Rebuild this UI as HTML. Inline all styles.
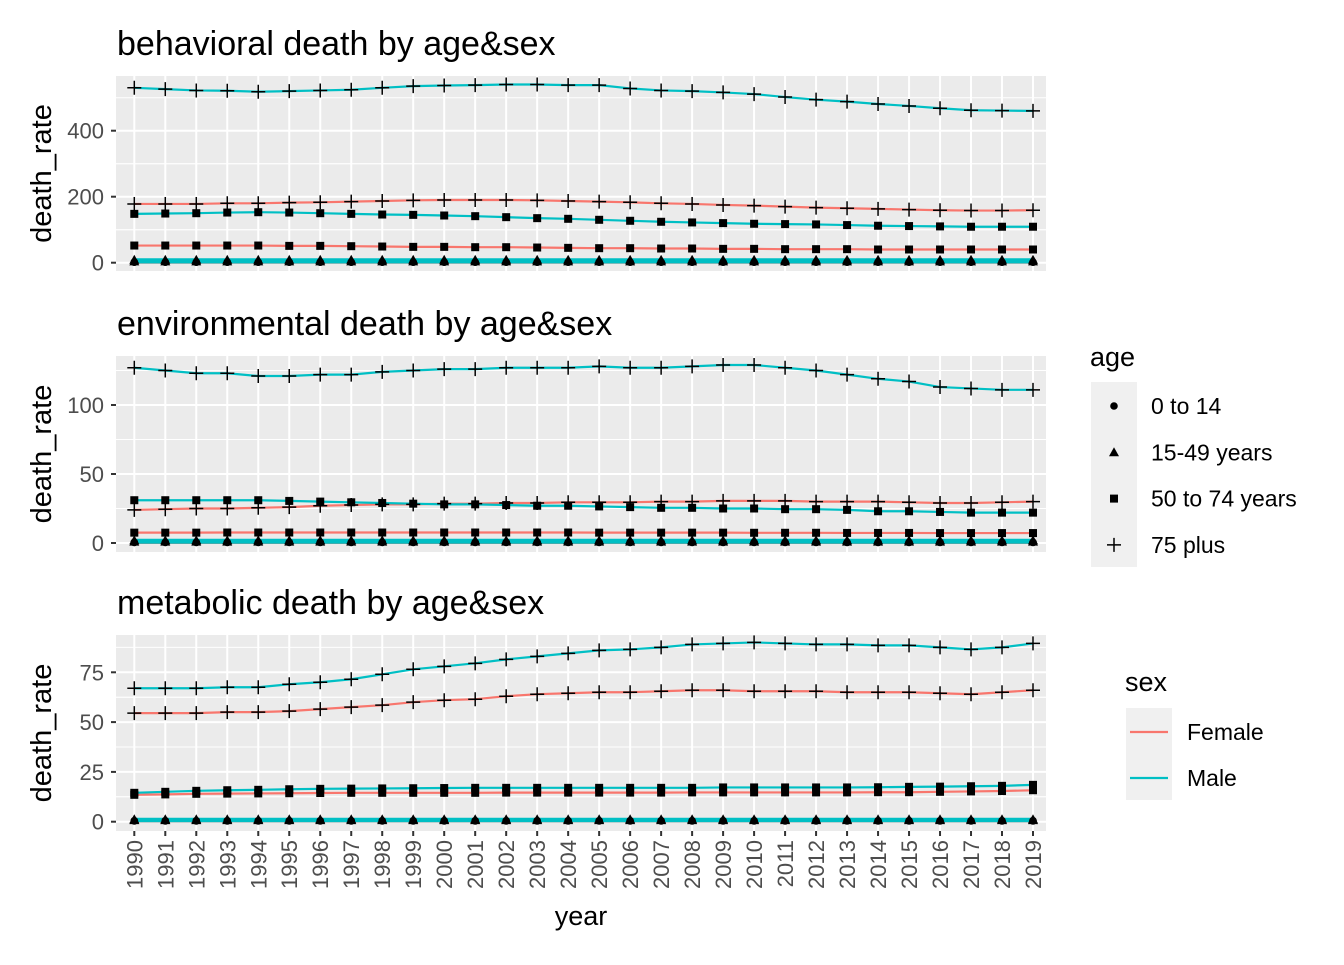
<!DOCTYPE html>
<html><head><meta charset="utf-8"><style>
body{margin:0;background:#fff}
svg text{font-family:"Liberation Sans",Arial,sans-serif}
</style></head><body>
<svg id="c" width="1344" height="960" xmlns="http://www.w3.org/2000/svg"></svg>
<script>
const years=[];for(let y=1990;y<=2019;y++)years.push(y);
const ages=['0 to 14','15-49 years','50 to 74 years','75 plus'];
// behavioral
const behM0=Array(30).fill(2), behF0=Array(30).fill(1.5);
const behM15=Array(30).fill(9), behF15=Array(30).fill(4);
const behM50=[148,149,150,152,153,152,150,148,146,145,143,141,138,135,133,130,127,124,122,120,118,117,116,114,112,111,110,109,109,109];
const behF50=[52,52,52,52,52,51,51,50,49,48,48,47,47,46,45,44,44,43,43,42,42,41,41,41,40,40,40,40,40,40];
const behM75=[530,526,522,521,518,520,522,524,530,535,537,538,540,540,538,538,528,522,520,516,511,502,494,488,481,475,468,462,461,460];
const behF75=[178,178,178,180,180,182,183,185,187,189,190,190,190,189,187,185,183,180,178,175,173,170,167,165,163,161,159,158,158,159];
// environmental
const envM0=Array(30).fill(0.5), envF0=Array(30).fill(0.4);
const envM15=Array(30).fill(2), envF15=Array(30).fill(1);
const envM50=[31,31,31,31,31,30.5,30,29.5,29,28.5,28,28,27.5,27,27,26.5,26,25.5,25.5,25,25,24.5,24.5,24,23,23,22.5,22,22,22];
const envF50=[7.5,7.5,7.5,7.6,7.6,7.6,7.6,7.6,7.6,7.6,7.6,7.6,7.6,7.6,7.6,7.5,7.5,7.5,7.5,7.5,7.4,7.4,7.4,7.3,7.3,7.3,7.2,7.2,7.2,7.2];
const envM75=[127,125,123,123,121,121,122,122,124,125,126,126,127,127,127,128,127,127,128,129,129,127,125,122,119,117,113,112,111,111];
const envF75=[24,24.5,25,25,25.5,26,27,27.5,28,28,28.5,28.5,29,29,29.5,29.5,29.5,30,30,30.5,30.5,30.5,30,30,30,29.5,29,29,29.5,30];
// metabolic
const metM0=Array(30).fill(0.5), metF0=Array(30).fill(0.4);
const metM15=Array(30).fill(1.2), metF15=Array(30).fill(0.8);
const metM50=[14.5,15,15.5,15.8,16,16.3,16.5,16.6,16.7,16.8,16.9,17,17,17,17,17,17,17,17,17.2,17.2,17.2,17.2,17.2,17.3,17.5,17.6,17.8,18,18.5];
const metF50=[13.5,13.7,14,14.1,14.2,14.3,14.4,14.5,14.5,14.5,14.5,14.5,14.6,14.6,14.6,14.6,14.6,14.6,14.7,14.7,14.7,14.7,14.7,14.7,14.8,14.8,15,15.2,15.4,15.8];
const metM75=[67,67,67,67.5,67.5,69,70,71.5,74,76.5,78,79.5,81.5,83,84.5,86,86.5,87.5,89,89.5,90,89.5,89,89,88.5,88.5,87.5,86.5,87.5,89.5];
const metF75=[54.5,54.5,54.5,55,55,55.5,56.5,57.5,58.5,60,61,61.5,63,64,64.5,65,65,65.5,66,66,65.5,65.5,65.5,65,65,65,64.5,64,65,66];
const behTicks=[0,200,400], envTicks=[0,50,100], metTicks=[0,25,50,75];

const NS='http://www.w3.org/2000/svg', svg=document.getElementById('c');
function mk(t,a,p){const e=document.createElementNS(NS,t);for(const k in a)e.setAttribute(k,a[k]);(p||svg).appendChild(e);return e;}
const X0=116,X1=1046;
const xs=i=>134.3+i*(1033-134.3)/29;
const panels=[
 {title:'behavioral death by age&sex',top:76,bot:271,z:262.7,k:0.33,ticks:behTicks,F:[behF0,behF15,behF50,behF75],M:[behM0,behM15,behM50,behM75],key:'behavioral'},
 {title:'environmental death by age&sex',top:356,bot:552,z:543,k:1.38,ticks:envTicks,F:[envF0,envF15,envF50,envF75],M:[envM0,envM15,envM50,envM75],key:'environmental'},
 {title:'metabolic death by age&sex',top:635,bot:831,z:821.7,k:1.992,ticks:metTicks,F:[metF0,metF15,metF50,metF75],M:[metM0,metM15,metM50,metM75],key:'metabolic'}];
function marker(g,a,x,y){
 if(a===0)mk('circle',{cx:x,cy:y,r:3.8,fill:'#000'},g);
 else if(a===1)mk('polygon',{points:`${x},${y-5} ${x-5},${y+4} ${x+5},${y+4}`,fill:'#000'},g);
 else if(a===2)mk('rect',{x:x-4,y:y-4,width:8,height:8,fill:'#000'},g);
 else{mk('path',{d:`M${x-7},${y}H${x+7}M${x},${y-7}V${y+7}`,stroke:'#000','stroke-width':1.5},g);}
}
panels.forEach((p,pi)=>{
 const g=mk('g',{});
 const ys=v=>p.z-v*p.k;
 mk('rect',{x:X0,y:p.top,width:X1-X0,height:p.bot-p.top,fill:'#ebebeb'},g);
 for(let i=0;i<p.ticks.length;i++){const t=p.ticks[i],s=p.ticks[1]-p.ticks[0];
  [t-s/2,t+s/2].forEach(m=>{const yy=ys(m);if(yy>p.top&&yy<p.bot)mk('line',{x1:X0,x2:X1,y1:yy,y2:yy,stroke:'#fff','stroke-width':1},g);});}
 p.ticks.forEach(t=>{const yy=ys(t);mk('line',{x1:X0,x2:X1,y1:yy,y2:yy,stroke:'#fff','stroke-width':2},g);
  mk('line',{x1:111,x2:116,y1:yy,y2:yy,stroke:'#333','stroke-width':2},g);
  const tx=mk('text',{x:104,y:yy+8,'text-anchor':'end','font-size':22,fill:'#4d4d4d'},g);tx.textContent=t;});
 years.forEach((y,i)=>mk('line',{x1:xs(i),x2:xs(i),y1:p.top,y2:p.bot,stroke:'#fff','stroke-width':2},g));
 [['F','#f8766d'],['M','#00bfc4']].forEach(([s,c])=>p[s].forEach((arr,a)=>{
  const pl=mk('polyline',{points:arr.map((v,i)=>xs(i)+','+ys(v)).join(' '),fill:'none',stroke:c,'stroke-width':a<2?3:2.2},g);
  
  }));
 ['F','M'].forEach(s=>p[s].forEach((arr,a)=>arr.forEach((v,i)=>marker(g,a,xs(i),ys(v)))));
 const ti=mk('text',{x:117,y:p.top-21,'font-size':34,fill:'#000'},g);ti.textContent=p.title;
 
 const yt=mk('text',{x:0,y:0,'font-size':29,'text-anchor':'middle',transform:`translate(51,${(p.top+p.bot)/2}) rotate(-90)`},g);yt.textContent='death_rate';
 
 if(pi===2){years.forEach((y,i)=>{mk('line',{x1:xs(i),x2:xs(i),y1:831,y2:836,stroke:'#333','stroke-width':2},g);
  const t=mk('text',{x:0,y:0,'font-size':22,fill:'#4d4d4d','text-anchor':'end',transform:`translate(${xs(i)+8},840) rotate(-90)`},g);t.textContent=y;});
  const xt=mk('text',{x:581,y:925,'font-size':27,'text-anchor':'middle'},g);xt.textContent='year';
  }
});
// legends
const lg=mk('g',{});
mk('text',{x:1090,y:366,'font-size':27},lg).textContent='age';
mk('rect',{x:1091,y:382,width:46,height:185,fill:'#f0f0f0'},lg);
ages.forEach((a,i)=>{const y=406+i*46.3;marker(lg,i,1114,y);
 const t=mk('text',{x:1151,y:y+8,'font-size':23},lg);t.textContent=a;});
const sg=mk('g',{});
mk('text',{x:1125,y:691,'font-size':27},sg).textContent='sex';
mk('rect',{x:1126,y:708,width:46,height:92,fill:'#f0f0f0'},sg);
[['Female','#f8766d'],['Male','#00bfc4']].forEach(([n,c],i)=>{const y=732+i*46;
 mk('line',{x1:1130,x2:1168,y1:y,y2:y,stroke:c,'stroke-width':2.2},sg);
 const t=mk('text',{x:1187,y:y+8,'font-size':23},sg);t.textContent=n;});
</script>
</body></html>
